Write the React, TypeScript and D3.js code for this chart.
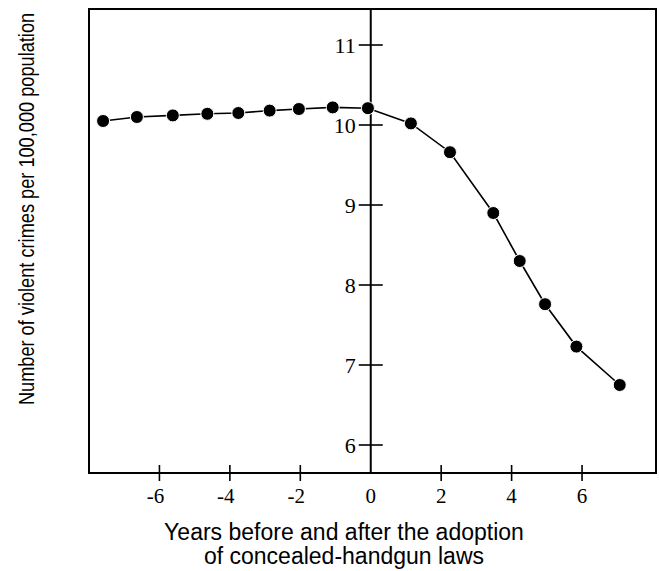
import React from "react";
import * as d3 from "d3";

const years = [-7.6, -6.64, -5.62, -4.64, -3.76, -2.87, -2.04, -1.08, -0.08, 1.14, 2.25, 3.48, 4.23, 4.95, 5.84, 7.07];
const crimeRates = [10.05, 10.1, 10.12, 10.14, 10.15, 10.18, 10.2, 10.22, 10.21, 10.02, 9.66, 8.9, 8.3, 7.76, 7.23, 6.75];
const xTicks = [-6, -4, -2, 0, 2, 4, 6];
const yTicks = [6, 7, 8, 9, 10, 11];
const yTitle = "Number of violent crimes per 100,000 population";
const xTitleLines = ["Years before and after the adoption", "of concealed-handgun laws"];

const W = 659;
const H = 571;
const box = { left: 89, right: 656, top: 9, bottom: 473 };

export default function App() {
  const x = d3.scaleLinear().domain([-8, 8.1]).range([box.left, box.right]);
  const y = d3.scaleLinear().domain([5.65, 11.45]).range([box.bottom, box.top]);
  const pts = years.map((yr, i) => [x(yr), y(crimeRates[i])] as [number, number]);
  const line = d3.line()(pts) || "";
  const x0 = x(0);
  const serif = "'Liberation Serif', 'Times New Roman', serif";
  const sans = "'Liberation Sans', Arial, sans-serif";

  return (
    <svg width={W} height={H} style={{ position: "absolute", left: 0, top: 0, background: "#fff" }}>
      <rect x={0} y={0} width={W} height={H} fill="#fff" />
      <rect
        x={box.left}
        y={box.top}
        width={box.right - box.left}
        height={box.bottom - box.top}
        fill="none"
        stroke="#000"
        strokeWidth={2}
      />
      <line x1={x0} x2={x0} y1={box.top} y2={box.bottom} stroke="#000" strokeWidth={2} />
      {yTicks.map((t) => (
        <g key={"y" + t}>
          <line x1={x0 - 12} x2={x0 + 12} y1={y(t)} y2={y(t)} stroke="#000" strokeWidth={1.6} />
          <text
            x={x0 - 15}
            y={y(t)}
            dy="0.35em"
            textAnchor="end"
            fontFamily={serif}
            fontSize={22}
            fill="#000"
          >
            {t}
          </text>
        </g>
      ))}
      {xTicks.map((t) => (
        <g key={"x" + t}>
          {t !== 0 && (
            <line x1={x(t)} x2={x(t)} y1={box.bottom - 8} y2={box.bottom + 8} stroke="#000" strokeWidth={1.6} />
          )}
          <text
            x={x(t) - (t < 0 ? 4 : 0)}
            y={box.bottom + 30}
            textAnchor="middle"
            fontFamily={serif}
            fontSize={21}
            fill="#000"
          >
            {t}
          </text>
        </g>
      ))}
      <path d={line} fill="none" stroke="#000" strokeWidth={1.6} />
      {pts.map((p, i) => (
        <circle key={i} cx={p[0]} cy={p[1]} r={6.5} fill="#000" stroke="#fff" strokeWidth={1} />
      ))}
      <text
        transform={`translate(34, ${209}) rotate(-90) scale(1, 1.18)`}
        textAnchor="middle"
        fontFamily={sans}
        fontSize={18.2}
        fill="#000"
      >
        {yTitle}
      </text>
      {xTitleLines.map((s, i) => (
        <text
          key={i}
          x={344}
          y={540 + i * 24}
          textAnchor="middle"
          fontFamily={sans}
          fontSize={23}
          fill="#000"
        >
          {s}
        </text>
      ))}
    </svg>
  );
}
